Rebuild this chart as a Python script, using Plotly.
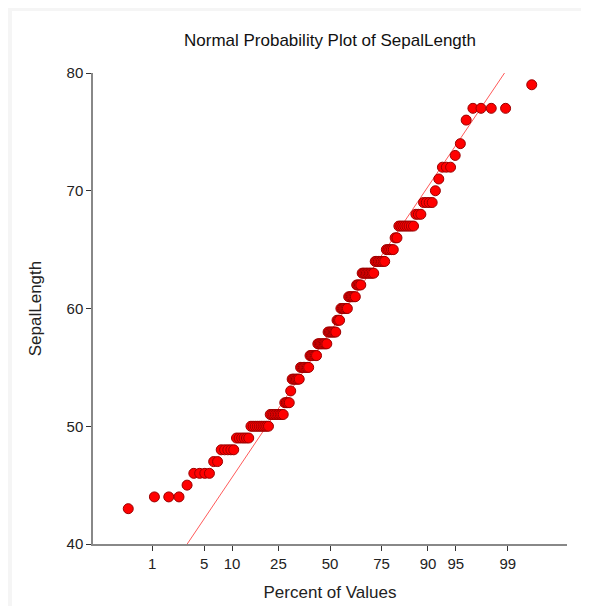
import plotly.graph_objects as go
from statistics import NormalDist

# Iris SepalLength (x10): distinct values and their counts
sepal_values = [43, 44, 45, 46, 47, 48, 49, 50, 51, 52, 53, 54, 55, 56, 57, 58, 59,
                60, 61, 62, 63, 64, 65, 66, 67, 68, 69, 70, 71, 72, 73, 74, 76, 77, 79]
sepal_counts = [1, 3, 1, 4, 2, 5, 6, 10, 9, 4, 1, 6, 7, 6, 8, 7, 3,
                6, 6, 4, 9, 7, 5, 2, 8, 3, 4, 1, 1, 3, 1, 1, 1, 4, 1]

# Reference line: passes through median with slope IQR/1.349
line_center = 58.0
line_q1 = 51.0
line_q3 = 64.0

tick_percents = [1, 5, 10, 25, 50, 75, 90, 95, 99]
y_ticks = [40, 50, 60, 70, 80]

nd = NormalDist()
sorted_vals = []
for v, c in zip(sepal_values, sepal_counts):
    sorted_vals.extend([v] * c)
n = len(sorted_vals)
zs = [nd.inv_cdf((i + 1 - 0.375) / (n + 0.25)) for i in range(n)]

slope = (line_q3 - line_q1) / (2 * nd.inv_cdf(0.75))
line_y = [40, 80]
line_x = [(y - line_center) / slope for y in line_y]

fig = go.Figure()
fig.add_trace(go.Scatter(
    x=line_x, y=line_y, mode="lines",
    line=dict(color="#ff5a5a", width=1), hoverinfo="skip", showlegend=False))
fig.add_trace(go.Scatter(
    x=zs, y=sorted_vals, mode="markers",
    marker=dict(color="#ff0000", size=10, line=dict(color="#9a0000", width=1)),
    showlegend=False, cliponaxis=False))

W, H = 573, 598
L, R, T, B = 85, 14, 65, 62
pw, ph = W - L - R, H - T - B

font_family = "Liberation Sans, Arial, sans-serif"
fig.update_layout(
    width=W, height=H,
    paper_bgcolor="#f5f5f5", plot_bgcolor="white",
    margin=dict(l=L, r=R, t=T, b=B, autoexpand=False),
    font=dict(family=font_family, color="#222222", size=15),
    title=dict(text="Normal Probability Plot of SepalLength", x=322 / W, xanchor="center",
               xref="container", y=1 - 32 / H, yanchor="middle", yref="container",
               font=dict(size=17, color="#111111")),
    shapes=[dict(type="rect", xref="paper", yref="paper",
                 x0=(4 - L) / pw, x1=(W + 10 - L) / pw,
                 y0=-(B + 10) / ph, y1=(H - 3 - B) / ph,
                 fillcolor="white", line=dict(width=0), layer="below")],
    xaxis=dict(range=[-3.1, 3.1], showgrid=False, zeroline=False, automargin=False,
               showline=True, linecolor="#888888", linewidth=1.5,
               tickmode="array",
               tickvals=[nd.inv_cdf(p / 100) for p in tick_percents],
               ticktext=[str(p) for p in tick_percents],
               ticks="outside", ticklen=5, tickcolor="#333333", tickwidth=1,
               title=dict(text="Percent of Values", font=dict(size=17), standoff=15)),
    yaxis=dict(range=[40, 80], showgrid=False, zeroline=False, automargin=False,
               showline=True, linecolor="#888888", linewidth=1.5,
               tickmode="array", tickvals=y_ticks,
               ticks="outside", ticklen=5, tickcolor="#333333", tickwidth=1,
               title=dict(text="SepalLength", font=dict(size=17), standoff=21)),
)

fig.write_html("out.html")
